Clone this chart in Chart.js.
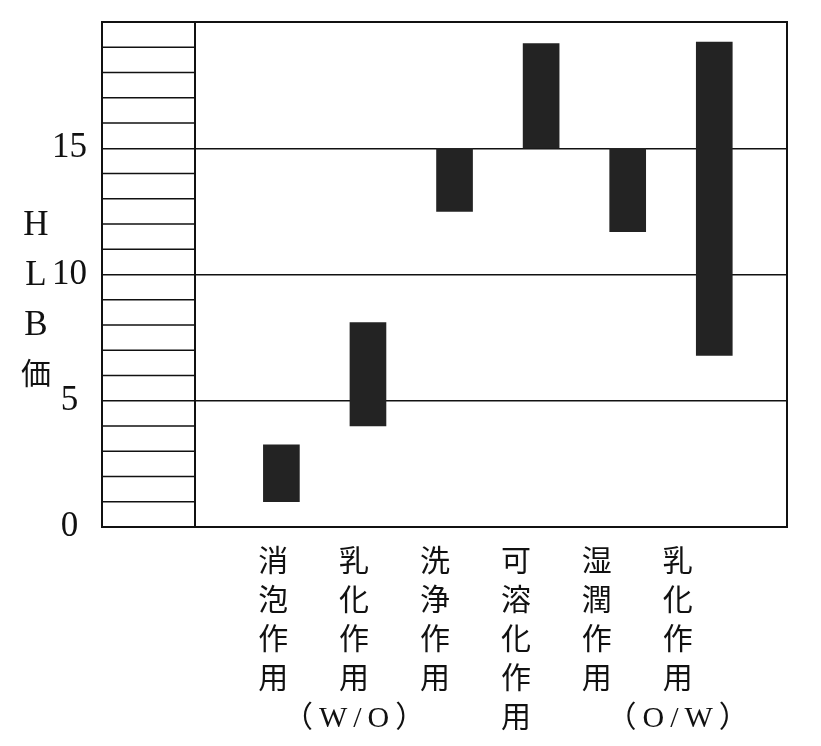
<!DOCTYPE html>
<html><head><meta charset="utf-8">
<script src="https://cdn.jsdelivr.net/npm/chart.js@4/dist/chart.umd.min.js"></script>
<style>html,body{margin:0;padding:0;background:#fff;overflow:hidden}#wrap{width:821px;height:746px}</style>
</head><body><div id="wrap"><canvas id="c" width="821" height="746"></canvas></div>
<script>
// ---- data ----
const categories = [
  ['消','泡','作','用'],
  ['乳','化','作','用','（\u2009W\u2009/\u2009O\u2009）'],
  ['洗','浄','作','用'],
  ['可','溶','化','作','用'],
  ['湿','潤','作','用'],
  ['乳','化','作','用','（\u2009O\u2009/\u2009W\u2009）']
];
const hlbLow  = [1.0, 4.0, 12.5, 15.0, 11.7, 6.8];
const hlbHigh = [3.25, 8.1, 15.0, 19.15, 15.0, 19.2];
const yTicks = [0, 5, 10, 15, 20];
const yTickLabels = ['0', '5', '10', '15', ''];
const minorTicks = [1,2,3,4,6,7,8,9,11,12,13,14,16,17,18,19];
const yTitle = ['H', 'L', 'B', '価'];

const INK = '#111';
const SERIF = '"Liberation Serif", "Noto Sans CJK JP", serif';

const stripPlugin = {
  id: 'strip',
  beforeDatasetsDraw(chart) {
    const {ctx, chartArea, scales} = chart;
    const xr = scales.x.getPixelForValue(0);
    ctx.save();
    ctx.strokeStyle = INK;
    ctx.lineWidth = 1.5;
    minorTicks.forEach(v => {
      const py = scales.y.getPixelForValue(v);
      ctx.beginPath();
      ctx.moveTo(chartArea.left, py);
      ctx.lineTo(xr, py);
      ctx.stroke();
    });
    ctx.restore();
  },
  afterDraw(chart) {
    const {ctx} = chart;
    ctx.save();
    ctx.fillStyle = INK;
    ctx.textAlign = 'center';
    ctx.textBaseline = 'middle';
    yTitle.forEach((t, i) => {
      ctx.font = (t.charCodeAt(0) > 255 ? '30px ' : '35px ') + SERIF;
      ctx.fillText(t, 36, 226 + i * 50);
    });
    ctx.restore();
  }
};

new Chart(document.getElementById('c'), {
  type: 'bar',
  data: {
    datasets: [{
      data: categories.map((c, i) => ({x: i + 1, y: [hlbLow[i], hlbHigh[i]]})),
      backgroundColor: '#232323',
      borderWidth: 0,
      barThickness: 36,
      xAxisID: 'x',
      yAxisID: 'y'
    }]
  },
  options: {
    responsive: false,
    devicePixelRatio: 1,
    animation: false,
    events: [],
    layout: {padding: {top: 22, left: 0, right: 0, bottom: 0}},
    plugins: {legend: {display: false}, tooltip: {enabled: false}},
    scales: {
      x: {
        type: 'linear',
        position: 'bottom',
        min: -1.072,
        max: 6.84,
        offset: false,
        weight: 0,
        afterBuildTicks: s => { s.ticks = [{value: 0}]; },
        ticks: {display: false},
        grid: {display: true, offset: false, color: INK, lineWidth: 2, drawTicks: false},
        border: {display: true, color: INK, width: 2}
      },
      xl: {
        type: 'linear',
        position: 'bottom',
        min: -1.117,
        max: 7.352,
        offset: false,
        weight: 1,
        afterBuildTicks: s => { s.ticks = categories.map((c, i) => ({value: i + 1})); },
        afterFit: s => { s.height = 219; s.paddingLeft = 0; s.paddingRight = 0; },
        ticks: {
          autoSkip: false, maxRotation: 0, minRotation: 0,
          padding: 9,
          color: INK,
          font: {size: 30, family: SERIF, lineHeight: '39px'},
          callback: (v) => categories[v - 1] || ''
        },
        grid: {display: false, offset: false},
        border: {display: false}
      },
      y: {
        type: 'linear',
        position: 'left',
        min: 0,
        max: 20,
        afterBuildTicks: s => { s.ticks = yTicks.map(v => ({value: v})); },
        afterFit: s => { s.width = 102; s.paddingTop = 0; s.paddingBottom = 0; },
        ticks: {
          color: INK,
          padding: 15,
          crossAlign: 'center',
          font: {size: 35, family: SERIF},
          callback: (v, i) => yTickLabels[i]
        },
        grid: {
          color: INK,
          lineWidth: c => (c.tick && (c.tick.value === 0 || c.tick.value === 20)) ? 2 : 1.5,
          drawTicks: false
        },
        border: {display: true, color: INK, width: 2}
      },
      y2: {
        type: 'linear',
        position: 'right',
        min: 0,
        max: 20,
        afterFit: s => { s.width = 34; s.paddingTop = 0; s.paddingBottom = 0; },
        ticks: {display: false},
        grid: {display: false, drawTicks: false},
        border: {display: true, color: INK, width: 2}
      }
    }
  },
  plugins: [stripPlugin]
});
</script>
</body></html>
